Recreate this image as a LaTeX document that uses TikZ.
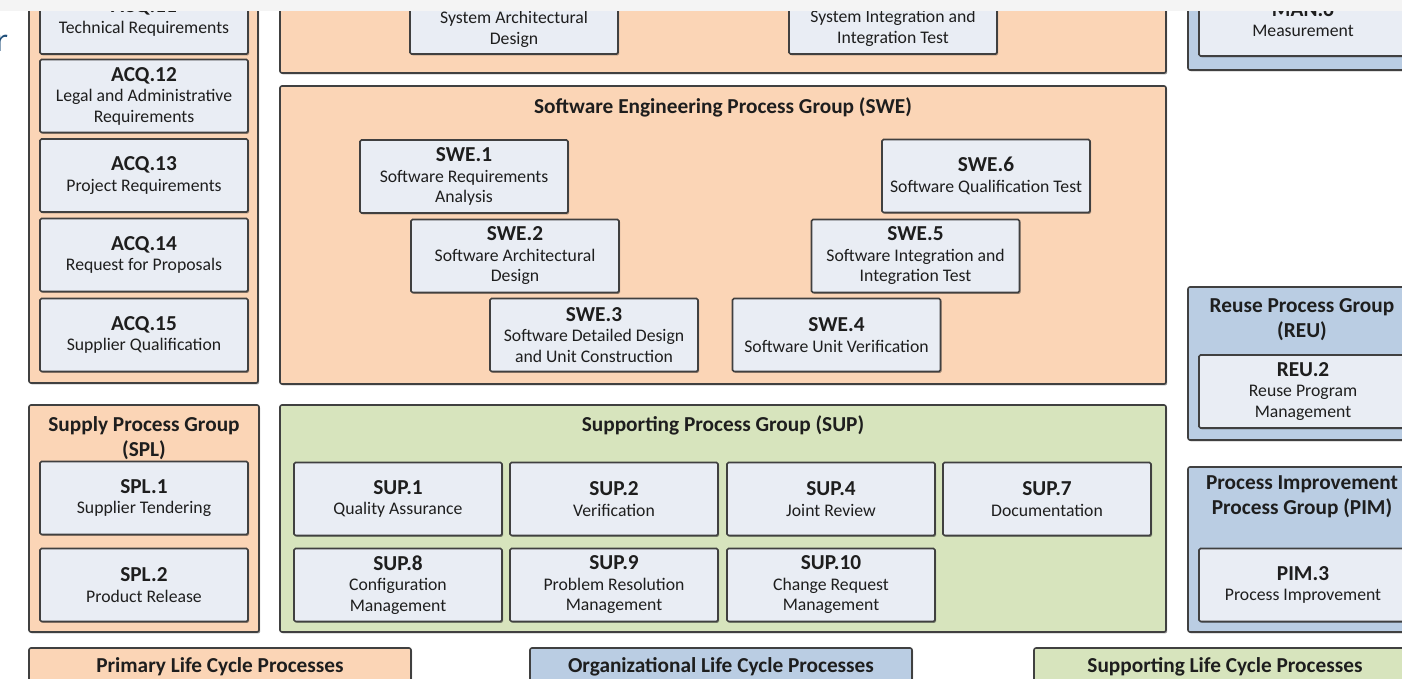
\documentclass[tikz,border=0pt]{standalone}
\usepackage{fontspec}
\setmainfont{Carlito}
\newfontfamily\webfont{Open Sans}
\usetikzlibrary{shadows}

\definecolor{peach}{HTML}{FBD5B6}
\definecolor{steel}{HTML}{BACDE3}
\definecolor{sage}{HTML}{D7E4BD}
\definecolor{boxfill}{HTML}{E9EDF4}
\definecolor{edge}{HTML}{404040}
\definecolor{ink}{HTML}{1E1E1E}
\definecolor{barfill}{HTML}{F4F4F4}
\definecolor{linkblue}{HTML}{1F4E79}

% text sizes (1pt = 1px of the drawing)
\newcommand\subsz{\fontsize{17.7}{20.5}\selectfont}
\newcommand\hd[1]{{\fontsize{21.3}{20.5}\selectfont\bfseries #1}}
\newcommand\grpsz{\fontsize{21.3}{25}\selectfont\bfseries}

\begin{document}
\begin{tikzpicture}[x=1pt,y=-1pt,
  shade/.style={drop shadow={shadow xshift=1.2pt,shadow yshift=-1.4pt,opacity=0.35,fill=black}},
  grp/.style={draw=edge,line width=1.6pt,rounded corners=2pt,shade},
  pbox/.style={draw=edge,fill=boxfill,line width=1.6pt,rounded corners=1.5pt,
    minimum width=208pt,minimum height=73pt,inner sep=0pt,align=center,
    font=\subsz,text=ink,shade},
  gtitle/.style={font=\grpsz,align=center,text=ink,inner sep=0pt},
  lbl/.style={font=\subsz,align=center,text=ink,inner sep=0pt},
  legend/.style={font=\grpsz,text=ink,inner sep=0pt}]
\useasboundingbox (0,0) rectangle (1402,679);
\clip (0,0) rectangle (1402,679);

% ---------- acquisition column ----------
\path[grp,fill=peach] (29,-60) rectangle (258,383);
\node[pbox] (acq11) at (144,17.5) {\hd{ACQ.11}\\Technical Requirements};
\node[pbox] (acq12) at (144,96) {\hd{ACQ.12}\\Legal and Administrative\\Requirements};
\node[pbox] (acq13) at (144,175.5) {\hd{ACQ.13}\\Project Requirements};
\node[pbox] (acq14) at (144,255) {\hd{ACQ.14}\\Request for Proposals};
\node[pbox] (acq15) at (144,335) {\hd{ACQ.15}\\Supplier Qualification};

% ---------- system engineering ----------
\path[grp,fill=peach] (280,-60) rectangle (1166,73);
\node[pbox] (sys3) at (514,17.5) {};
\node[lbl] (sys3t) at (514,29.5) {System Architectural\\Design};
\node[pbox] (sys4) at (893,17.5) {};
\node[lbl] (sys4t) at (893,28.5) {System Integration and\\Integration Test};

% ---------- management ----------
\path[grp,fill=steel] (1188,-60) rectangle (1418,70);
\node[pbox] (man6) at (1303,19.5) {\hd{MAN.6}\\Measurement};

% ---------- software engineering ----------
\path[grp,fill=peach] (280,86) rectangle (1166,384);
\node[gtitle] (swet) at (723,107) {Software Engineering Process Group (SWE)};
\node[pbox] (swe1) at (464,176.5) {\hd{SWE.1}\\Software Requirements\\Analysis};
\node[pbox] (swe2) at (515,256) {\hd{SWE.2}\\Software Architectural\\Design};
\node[pbox] (swe3) at (594,335) {\hd{SWE.3}\\Software Detailed Design\\and Unit Construction};
\node[pbox] (swe4) at (836.5,335) {\hd{SWE.4}\\Software Unit Verification};
\node[pbox] (swe5) at (915.5,256) {\hd{SWE.5}\\Software Integration and\\Integration Test};
\node[pbox] (swe6) at (986,176) {\hd{SWE.6}\\Software Qualification Test};

% ---------- reuse ----------
\path[grp,fill=steel] (1188,287) rectangle (1418,440);
\node[gtitle] (reut) at (1302,319.5) {Reuse Process Group\\(REU)};
\node[pbox] (reu2) at (1303,391.5) {\hd{REU.2}\\Reuse Program\\Management};

% ---------- supply ----------
\path[grp,fill=peach] (29,405) rectangle (259,632);
\node[gtitle] (splt) at (144,438) {Supply Process Group\\(SPL)};
\node[pbox] (spl1) at (144,498) {\hd{SPL.1}\\Supplier Tendering};
\node[pbox] (spl2) at (144,585) {\hd{SPL.2}\\Product Release};

% ---------- supporting ----------
\path[grp,fill=sage] (280,405) rectangle (1166,632);
\node[gtitle] (supt) at (723,425) {Supporting Process Group (SUP)};
\node[pbox] (sup1) at (398,499) {\hd{SUP.1}\\Quality Assurance};
\node[pbox] (sup2) at (614,499) {\hd{SUP.2}\\Verification};
\node[pbox] (sup4) at (831,499) {\hd{SUP.4}\\Joint Review};
\node[pbox] (sup7) at (1047,499) {\hd{SUP.7}\\Documentation};
\node[pbox] (sup8) at (398,585) {\hd{SUP.8}\\Configuration\\Management};
\node[pbox] (sup9) at (614,585) {\hd{SUP.9}\\Problem Resolution\\Management};
\node[pbox] (sup10) at (831,585) {\hd{SUP.10}\\Change Request\\Management};

% ---------- process improvement ----------
\path[grp,fill=steel] (1188,467) rectangle (1418,632);
\node[gtitle] (pimt) at (1302,497) {Process Improvement\\Process Group (PIM)};
\node[pbox] (pim3) at (1303,585) {\hd{PIM.3}\\Process Improvement};

% ---------- legend ----------
\path[grp,fill=peach] (29,648) rectangle (411,700);
\node[legend] (lgprim) at (220,667) {Primary Life Cycle Processes};
\path[grp,fill=steel] (530,648) rectangle (912,700);
\node[legend] (lgorg) at (721,667) {Organizational Life Cycle Processes};
\path[grp,fill=sage] (1034,648) rectangle (1416,700);
\node[legend] (lgsup) at (1225,667) {Supporting Life Cycle Processes};

% ---------- page header strip ----------
\fill[barfill] (-10,-10) rectangle (1412,11);
\node[anchor=base east,inner sep=0pt,text=linkblue,font=\webfont\fontsize{30}{32}\selectfont] (pagetxt) at (8,52) {r};
\end{tikzpicture}
\end{document}
